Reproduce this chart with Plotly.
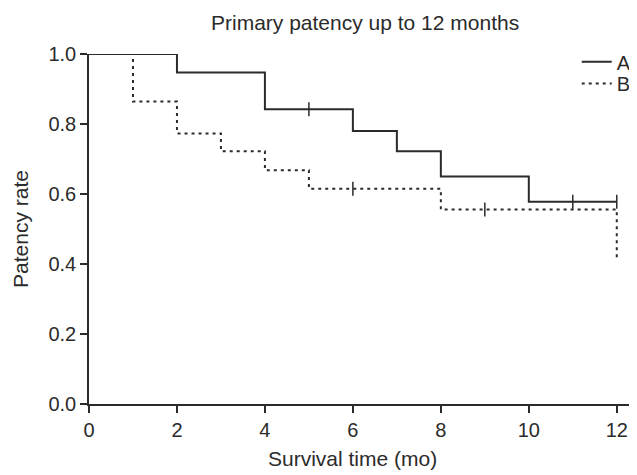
import plotly.graph_objects as go

# Kaplan-Meier step data
a_time = [0, 2, 4, 6, 7, 8, 10, 12]
a_surv = [1.0, 0.947, 0.842, 0.78, 0.722, 0.65, 0.578, 0.578]
a_cens_time = [5, 11, 12]
a_cens_surv = [0.842, 0.578, 0.578]

b_time = [0, 1, 2, 3, 4, 5, 8, 12, 12]
b_surv = [1.0, 0.864, 0.773, 0.722, 0.668, 0.615, 0.556, 0.556, 0.413]
b_cens_time = [6, 9]
b_cens_surv = [0.615, 0.556]

x_ticks = [0, 2, 4, 6, 8, 10, 12]
y_ticks = [0.0, 0.2, 0.4, 0.6, 0.8, 1.0]
y_tick_labels = ["0.0", "0.2", "0.4", "0.6", "0.8", "1.0"]

INK = "#2b2b2b"
FONT = "Liberation Sans, Arial, sans-serif"

fig = go.Figure()
fig.add_trace(go.Scatter(x=a_time, y=a_surv, mode="lines", line_shape="hv",
                         line=dict(color=INK, width=2), name="A", legend="legend"))
fig.add_trace(go.Scatter(x=b_time, y=b_surv, mode="lines", line_shape="hv",
                         line=dict(color=INK, width=2, dash="3px,4px"), name="B",
                         legend="legend2"))
fig.add_trace(go.Scatter(x=a_cens_time, y=a_cens_surv, mode="markers", showlegend=False,
                         marker=dict(symbol="line-ns-open", size=10, color=INK,
                                     line=dict(color=INK, width=1.5))))
fig.add_trace(go.Scatter(x=b_cens_time, y=b_cens_surv, mode="markers", showlegend=False,
                         marker=dict(symbol="line-ns-open", size=10, color=INK,
                                     line=dict(color=INK, width=1.5))))

# page body adds an 8px offset, so the figure is 8px smaller than the window
W, H = 629, 467
L, R, T, B = 81, 0, 46, 71

legend_style = dict(xanchor="left", yanchor="middle", bgcolor="rgba(0,0,0,0)",
                    font=dict(size=20, color=INK), borderwidth=0)

fig.update_layout(
    width=W, height=H,
    margin=dict(l=L, r=R, t=T, b=B, pad=0),
    paper_bgcolor="white", plot_bgcolor="white",
    font=dict(family=FONT, size=20, color=INK),
    showlegend=True,
    legend=dict(x=0.89, y=0.978, **legend_style),
    legend2=dict(x=0.89, y=0.916, **legend_style),
    xaxis=dict(range=[0, 12.46], tickvals=x_ticks, ticks="outside", ticklen=7,
               tickwidth=1.5, tickcolor=INK, showline=True, linecolor=INK,
               linewidth=1.5, showgrid=False, zeroline=False,
               tickfont=dict(size=20, color=INK)),
    yaxis=dict(range=[0, 1.0], tickvals=y_ticks, ticktext=y_tick_labels,
               ticks="outside", ticklen=7, tickwidth=1.5, tickcolor=INK,
               showline=True, linecolor=INK, linewidth=1.5, showgrid=False,
               zeroline=False, tickfont=dict(size=20, color=INK)),
    annotations=[
        dict(text="Primary patency up to 12 months", xref="paper", yref="paper",
             x=0.503, y=1.0, yshift=32, xanchor="center", yanchor="middle",
             showarrow=False, font=dict(size=21, color=INK)),
        dict(text="Survival time (mo)", xref="x", yref="paper",
             x=6, y=0, yshift=-54, xanchor="center", yanchor="middle",
             showarrow=False, font=dict(size=21, color=INK)),
        dict(text="Patency rate", xref="paper", yref="paper",
             x=0, y=0.5, xshift=-69, xanchor="center", yanchor="middle",
             textangle=-90, showarrow=False, font=dict(size=21, color=INK)),
    ],
)

fig.write_html("out.html")
